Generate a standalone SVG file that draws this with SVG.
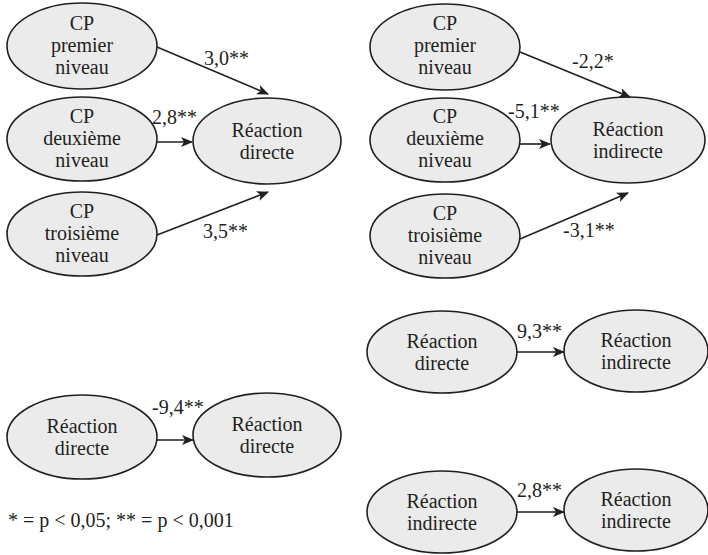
<svg xmlns="http://www.w3.org/2000/svg" width="708" height="555" viewBox="0 0 708 555">
<style>
.n ellipse{fill:#ebebeb;stroke:#231f20;stroke-width:1.6}
text{font-family:"Liberation Serif","Times New Roman",serif;font-size:20px;fill:#231f20}
.n text{text-anchor:middle}
.c line{stroke:#231f20;stroke-width:1.6;marker-end:url(#ah)}
</style>
<defs>
<marker id="ah" viewBox="0 0 12 10" refX="11" refY="5" markerWidth="12" markerHeight="10" markerUnits="userSpaceOnUse" orient="auto">
<path d="M0,0 L12,5 L0,10 L3,5 Z" fill="#231f20"/>
</marker>
</defs>
<g id="l-cp1" class="n"><ellipse cx="82" cy="46" rx="75" ry="43"/><text x="82" y="30">CP</text><text x="82" y="52">premier</text><text x="82" y="74">niveau</text></g>
<g id="l-cp2" class="n"><ellipse cx="82" cy="139" rx="75" ry="42"/><text x="82" y="123">CP</text><text x="82" y="145">deuxième</text><text x="82" y="167">niveau</text></g>
<g id="l-cp3" class="n"><ellipse cx="82" cy="234" rx="75" ry="42"/><text x="82" y="218">CP</text><text x="82" y="240">troisième</text><text x="82" y="262">niveau</text></g>
<g id="l-rd" class="n"><ellipse cx="267" cy="141" rx="74" ry="43"/><text x="267" y="137">Réaction</text><text x="267" y="159">directe</text></g>
<g id="r-cp1" class="n"><ellipse cx="445" cy="47" rx="75" ry="43"/><text x="445" y="30">CP</text><text x="445" y="52">premier</text><text x="445" y="74">niveau</text></g>
<g id="r-cp2" class="n"><ellipse cx="445" cy="140" rx="75" ry="42"/><text x="445" y="123">CP</text><text x="445" y="145">deuxième</text><text x="445" y="167">niveau</text></g>
<g id="r-cp3" class="n"><ellipse cx="445" cy="236" rx="75" ry="42"/><text x="445" y="220">CP</text><text x="445" y="242">troisième</text><text x="445" y="264">niveau</text></g>
<g id="r-ri" class="n"><ellipse cx="628" cy="140" rx="77" ry="43"/><text x="628" y="136">Réaction</text><text x="628" y="158">indirecte</text></g>
<g id="b-rd1" class="n"><ellipse cx="442" cy="352" rx="75" ry="41"/><text x="442" y="348">Réaction</text><text x="442" y="370">directe</text></g>
<g id="b-ri1" class="n"><ellipse cx="636" cy="351" rx="72" ry="41"/><text x="636" y="347">Réaction</text><text x="636" y="369">indirecte</text></g>
<g id="b-ri2" class="n"><ellipse cx="442" cy="512" rx="75" ry="41"/><text x="442" y="508">Réaction</text><text x="442" y="530">indirecte</text></g>
<g id="b-ri3" class="n"><ellipse cx="636" cy="510" rx="72" ry="41"/><text x="636" y="506">Réaction</text><text x="636" y="528">indirecte</text></g>
<g id="bl-rd1" class="n"><ellipse cx="82" cy="437" rx="75" ry="42"/><text x="82" y="433">Réaction</text><text x="82" y="455">directe</text></g>
<g id="bl-rd2" class="n"><ellipse cx="267" cy="435" rx="74" ry="42"/><text x="267" y="431">Réaction</text><text x="267" y="453">directe</text></g>
<g id="connectors" class="c">
<line x1="157" y1="47" x2="268" y2="94"/>
<line x1="157" y1="142" x2="192" y2="142"/>
<line x1="157" y1="235" x2="268" y2="192"/>
<line x1="520" y1="52" x2="630" y2="97"/>
<line x1="520" y1="144" x2="550" y2="144"/>
<line x1="520" y1="239" x2="628" y2="193"/>
<line x1="517" y1="352" x2="564" y2="352"/>
<line x1="517" y1="512" x2="564" y2="512"/>
<line x1="157" y1="440" x2="193" y2="440"/>
</g>
<g id="labels">
<text x="204" y="65">3,0**</text>
<text x="152" y="124">2,8**</text>
<text x="203" y="238">3,5**</text>
<text x="572" y="68">-2,2*</text>
<text x="508" y="118">-5,1**</text>
<text x="563" y="237">-3,1**</text>
<text x="517" y="338">9,3**</text>
<text x="517" y="497">2,8**</text>
<text x="152" y="414">-9,4**</text>
<text x="8" y="527">* = p &lt; 0,05; ** = p &lt; 0,001</text>
</g>
</svg>
